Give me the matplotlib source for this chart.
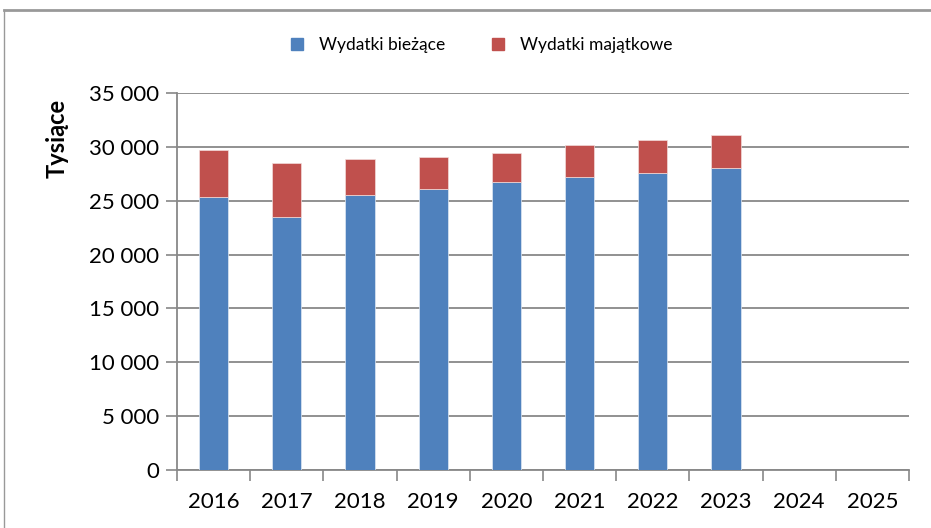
import numpy as np
import matplotlib.pyplot as plt
from matplotlib.lines import Line2D

years = ['2016', '2017', '2018', '2019', '2020', '2021', '2022', '2023', '2024', '2025']
biezace = [25300, 23500, 25500, 26100, 26700, 27200, 27600, 28000, 0, 0]
majatkowe = [4400, 5000, 3400, 3000, 2700, 3000, 3000, 3100, 0, 0]
yticks = [0, 5000, 10000, 15000, 20000, 25000, 30000, 35000]
ytick_labels = ['0', '5 000', '10 000', '15 000', '20 000', '25 000', '30 000', '35 000']

plt.rcParams['font.family'] = ['Lato', 'DejaVu Sans']

fig = plt.figure(figsize=(9.31, 5.28), dpi=100)
W, H = 931, 528
ax = fig.add_axes([177 / W, 1 - 470 / H, 732 / W, 377 / H])

x = np.arange(len(years))
blue = '#4F81BD'
red = '#C0504D'
ax.bar(x, biezace, width=0.4, color=blue, edgecolor='#dfe8f3', linewidth=0.5, zorder=3)
ax.bar(x, majatkowe, width=0.4, bottom=biezace, color=red, edgecolor='#f2dcdb', linewidth=0.5, zorder=3)

ax.set_xlim(-0.5, len(years) - 0.5)
ax.set_ylim(0, 35000)
ax.set_yticks(yticks)
ax.set_yticklabels(ytick_labels, fontsize=16)
ax.set_xticks(x)
ax.set_xticklabels(years, fontsize=16)
ax.set_xticks(np.arange(-0.5, len(years)), minor=True)
ax.tick_params(axis='x', which='major', length=0, pad=16)
ax.tick_params(axis='x', which='minor', length=8, color='#888888', width=1.2)
ax.tick_params(axis='y', length=8, color='#888888', width=1.2, pad=5)

ax.grid(axis='y', color='#888888', linewidth=1.3, zorder=0)
for s in ['top', 'right']:
    ax.spines[s].set_visible(False)
for s in ['left', 'bottom']:
    ax.spines[s].set_color('#888888')
    ax.spines[s].set_linewidth(1.3)

fig.text(57 / W, 1 - 138 / H, 'Tysiące', rotation=90, fontsize=17, fontweight='bold',
         ha='center', va='center')

handles = [Line2D([], [], marker='s', linestyle='none', color=blue, markersize=9),
           Line2D([], [], marker='s', linestyle='none', color=red, markersize=9)]
fig.legend(handles, ['Wydatki bieżące', 'Wydatki majątkowe'], loc='center',
           bbox_to_anchor=(476 / W, 1 - 45 / H), ncol=2, frameon=False, fontsize=12.5,
           handletextpad=0.3, columnspacing=2.0)

# outer chart frame (cropped)
fig.add_artist(Line2D([4 / W, 1], [1 - 10 / H, 1 - 10 / H], color='#999999', linewidth=2))
fig.add_artist(Line2D([4 / W, 4 / W], [0, 1 - 10 / H], color='#999999', linewidth=1))

fig.savefig('out.png', dpi=100)
